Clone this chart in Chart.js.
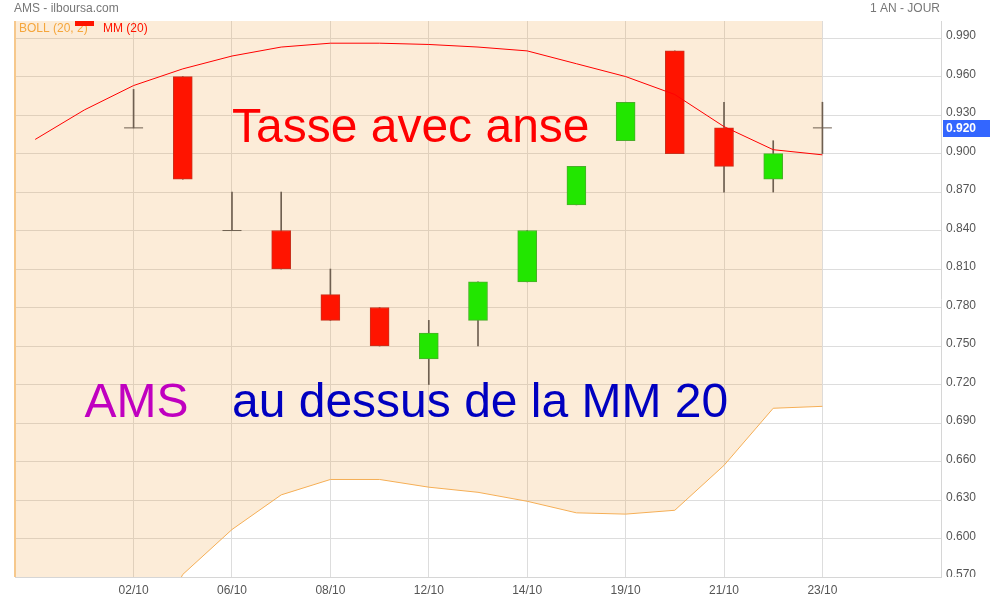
<!DOCTYPE html>
<html>
<head>
<meta charset="utf-8">
<title>AMS - ilboursa.com</title>
<script src="https://cdn.jsdelivr.net/npm/chart.js@4.4.1/dist/chart.umd.min.js"></script>
<style>
  html, body { margin: 0; padding: 0; background: #fff; }
  #cadre { width: 990px; height: 600px; position: relative; }
</style>
</head>
<body>
<div id="cadre"><canvas id="graficaAms"></canvas></div>
<script>
// un pas = une séance ; 0 = premier point de la MM 20
var tickPos = [2, 4, 6, 8, 10, 12, 14, 16];
var tickLabels = ['02/10', '06/10', '08/10', '12/10', '14/10', '19/10', '21/10', '23/10'];
var priceTicks = [0.57, 0.60, 0.63, 0.66, 0.69, 0.72, 0.75, 0.78, 0.81, 0.84, 0.87, 0.90, 0.93, 0.96, 0.99];

// bougies
var candleIdx = [2, 3, 4, 5, 6, 7, 8, 9, 10, 11, 12, 13, 14, 15, 16];
var opens  = [0.92, 0.96, 0.84, 0.84, 0.79, 0.78, 0.74, 0.77, 0.80, 0.86, 0.91, 0.98, 0.92, 0.88, 0.92];
var highs  = [0.95, 0.96, 0.87, 0.87, 0.81, 0.78, 0.77, 0.80, 0.84, 0.89, 0.94, 0.98, 0.94, 0.91, 0.94];
var lows   = [0.92, 0.88, 0.84, 0.81, 0.77, 0.75, 0.72, 0.75, 0.80, 0.86, 0.91, 0.90, 0.87, 0.87, 0.90];
var closes = [0.92, 0.88, 0.84, 0.81, 0.77, 0.75, 0.76, 0.80, 0.84, 0.89, 0.94, 0.90, 0.89, 0.90, 0.92];

// MM (20)
var mmIdx = [0, 1, 2, 3, 4, 5, 6, 7, 8, 9, 10, 11, 12, 13, 14, 15, 16];
var mm20 = [0.911, 0.934, 0.953, 0.966, 0.976, 0.983, 0.986, 0.986, 0.985, 0.983, 0.980, 0.970, 0.960, 0.946, 0.921, 0.903, 0.899];

// BOLL (20, 2) - la bande haute sort du graphique
var bandIdx = [-1, 0, 1, 2, 3, 4, 5, 6, 7, 8, 9, 10, 11, 12, 13, 14, 15, 16];
var bollHaut = [1.40, 1.40, 1.42, 1.40, 1.36, 1.345, 1.33, 1.326, 1.326, 1.329, 1.330, 1.331, 1.320, 1.301, 1.270, 1.185, 1.105, 1.095];
var bollBas  = [0.40, 0.42, 0.45, 0.50, 0.572, 0.607, 0.634, 0.646, 0.646, 0.640, 0.636, 0.629, 0.620, 0.619, 0.622, 0.657, 0.7015, 0.703];

function puntos(xs, ys) {
    return xs.map(function (x, k) { return { x: x, y: ys[k] }; });
}

var corps = [], couleursCorps = [], bordsCorps = [], meches = [], dojis = [];
candleIdx.forEach(function (x, k) {
    meches.push({ x: x, y: [lows[k], highs[k]] });
    if (opens[k] === closes[k]) {
        dojis.push({ x: x, y: opens[k] });
    } else {
        corps.push({ x: x, y: [opens[k], closes[k]] });
        var hausse = closes[k] > opens[k];
        couleursCorps.push(hausse ? '#22E600' : '#FF1400');
        bordsCorps.push(hausse ? '#4AAE2A' : '#C8321E');
    }
});

var police = '"Liberation Sans", Arial, sans-serif';
Chart.defaults.font.family = police;

var textes = {
    id: 'textes',
    afterDraw: function (chart) {
        var ctx = chart.ctx, sx = chart.scales.x, sy = chart.scales.y, area = chart.chartArea;
        ctx.save();

        // le dernier libellé de prix est coupé par le bas du graphique
        ctx.fillStyle = '#fff';
        ctx.fillRect(area.right + 1, area.bottom, 60, 30);

        // bord gauche de la zone Bollinger
        ctx.strokeStyle = '#F6C88C';
        ctx.lineWidth = 2;
        ctx.beginPath();
        ctx.moveTo(area.left, area.top);
        ctx.lineTo(area.left, area.bottom);
        ctx.stroke();

        // en-tête
        ctx.font = '12px ' + police;
        ctx.textBaseline = 'middle';
        ctx.fillStyle = '#777';
        ctx.textAlign = 'left';
        ctx.fillText('AMS - ilboursa.com', 14, 9);
        ctx.textAlign = 'right';
        ctx.fillText('1 AN - JOUR', 940, 9);

        // légende
        ctx.textAlign = 'left';
        ctx.fillStyle = '#F5A63C';
        ctx.fillText('BOLL (20, 2)', 19, 29);
        ctx.fillStyle = '#FF1400';
        ctx.fillRect(75, 21, 19, 5);
        ctx.fillText('MM (20)', 103, 29);

        // dernier cours
        var dernier = closes[closes.length - 1];
        var py = sy.getPixelForValue(dernier);
        ctx.fillStyle = '#3366FF';
        ctx.fillRect(area.right + 2, Math.round(py) - 8, 60, 17);
        ctx.fillStyle = '#fff';
        ctx.font = 'bold 12px ' + police;
        ctx.fillText(dernier.toFixed(3), area.right + 5, Math.round(py) + 1);

        // annotations
        ctx.font = '48px ' + police;
        ctx.textBaseline = 'alphabetic';
        ctx.fillStyle = '#FF0000';
        ctx.fillText('Tasse avec anse', sx.getPixelForValue(4), sy.getPixelForValue(0.909));
        ctx.fillStyle = '#C000C0';
        ctx.fillText('AMS', sx.getPixelForValue(1), sy.getPixelForValue(0.695));
        ctx.fillStyle = '#0000C0';
        ctx.fillText('au dessus de la MM 20', sx.getPixelForValue(4), sy.getPixelForValue(0.695));

        ctx.restore();
    }
};

var ctx = document.getElementById('graficaAms').getContext('2d');
var graficaAms = new Chart(ctx, {
    type: 'bar',
    data: {
        datasets: [
            {
                type: 'line',
                label: 'BOLL haut',
                data: puntos(bandIdx, bollHaut),
                borderColor: '#F5AE55',
                borderWidth: 1,
                pointRadius: 0,
                tension: 0,
                fill: '+1',
                backgroundColor: 'rgba(242, 160, 60, 0.2)',
                order: 10
            },
            {
                type: 'line',
                label: 'BOLL bas',
                data: puntos(bandIdx, bollBas),
                borderColor: '#F5AE55',
                borderWidth: 1,
                pointRadius: 0,
                tension: 0,
                fill: false,
                order: 9
            },
            {
                label: 'mèches',
                data: meches,
                backgroundColor: '#6E5F50',
                borderWidth: 0,
                barThickness: 1,
                grouped: false,
                order: 5
            },
            {
                label: 'corps',
                data: corps,
                backgroundColor: couleursCorps,
                borderColor: bordsCorps,
                borderWidth: 1,
                borderSkipped: false,
                barThickness: 19,
                grouped: false,
                order: 3
            },
            {
                type: 'line',
                label: 'doji',
                data: dojis,
                showLine: false,
                pointStyle: 'line',
                pointRadius: 9.5,
                pointBorderColor: '#6E5F50',
                pointBorderWidth: 1,
                order: 2
            },
            {
                type: 'line',
                label: 'MM (20)',
                data: puntos(mmIdx, mm20),
                borderColor: '#FF0000',
                borderWidth: 1,
                pointRadius: 0,
                tension: 0,
                fill: false,
                order: 1
            }
        ]
    },
    options: {
        responsive: true,
        maintainAspectRatio: false,
        animation: false,
        events: [],
        layout: { padding: { top: 21, left: 15, right: 0, bottom: 0 } },
        plugins: {
            legend: { display: false },
            tooltip: { enabled: false },
            title: { display: false }
        },
        scales: {
            x: {
                type: 'linear',
                min: -0.41,
                max: 18.41,
                offset: false,
                afterBuildTicks: function (s) {
                    s.ticks = tickPos.map(function (v) { return { value: v }; });
                },
                afterFit: function (s) { s.height = 23; },
                grid: { color: '#dddddd', drawTicks: false, offset: false },
                border: { color: '#d6d6d6' },
                ticks: {
                    color: '#555',
                    font: { size: 12 },
                    padding: 6,
                    maxRotation: 0,
                    autoSkip: false,
                    callback: function (v) { return tickLabels[tickPos.indexOf(v)]; }
                }
            },
            y: {
                position: 'right',
                min: 0.57,
                max: 1.0033,
                afterBuildTicks: function (s) {
                    s.ticks = priceTicks.map(function (v) { return { value: v }; });
                },
                afterFit: function (s) { s.width = 49; },
                grid: { color: '#dddddd', drawTicks: false },
                border: { color: '#d6d6d6' },
                ticks: {
                    color: '#555',
                    font: { size: 12 },
                    padding: 5,
                    labelOffset: -2,
                    callback: function (v) { return v.toFixed(3); }
                }
            }
        }
    },
    plugins: [textes]
});
</script>
</body>
</html>
